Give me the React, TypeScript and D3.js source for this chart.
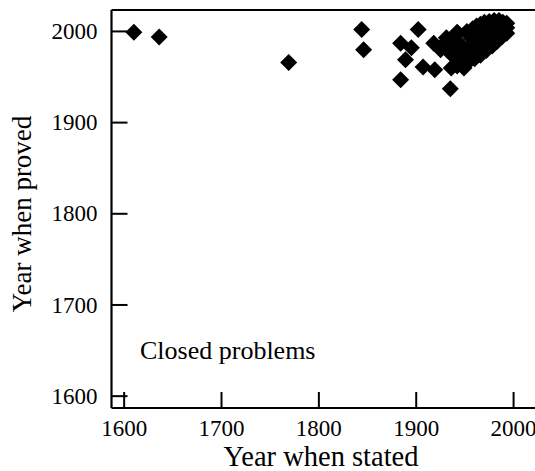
import React from 'react';
import * as d3 from 'd3';

// closed problems: year a problem was stated vs year it was proved

const statedYears = [
  1610, 1636, 1769, 1844, 1846, 1884, 1889, 1884, 1902, 1895,
  1907, 1919, 1935, 1936, 1949, 1918, 1931, 1943,
  1925, 1928, 1942, 1945, 1940, 1950, 1955, 1952, 1958, 1962,
  1966, 1970, 1975, 1980, 1985, 1989, 1993, 1993, 1988, 1983,
  1978, 1972, 1966, 1960, 1962, 1967, 1972, 1977, 1982, 1986,
  1980, 1975, 1970, 1965, 1958, 1960, 1945, 1952, 1936, 1993,
  1947, 1956, 1938, 1955, 1942, 1933, 1964
];
const provedYears = [
  1999, 1994, 1966, 2002, 1980, 1947, 1969, 1987, 2002, 1982,
  1961, 1958, 1937, 1960, 1960, 1987, 1993, 1998,
  1980, 1986, 1999, 1978, 1975, 1975, 1980, 2000, 2003, 2006,
  2008, 2010, 2011, 2012, 2012, 2010, 2004, 1998, 1994, 1989,
  1984, 1979, 1974, 1970, 1990, 1995, 2000, 2004, 2006, 2003,
  1997, 1991, 1987, 1982, 1985, 1996, 1968, 1966, 1975, 2009,
  1984, 1993, 1990, 1968, 1962, 1979, 1978
];

const xTicks = [1600, 1700, 1800, 1900, 2000];
const yTicks = [1600, 1700, 1800, 1900, 2000];

const W = 535;
const H = 471;
const font = '"Liberation Serif", "Times New Roman", serif';

export default function App() {
  const x = d3.scaleLinear().domain([1587, 2022]).range([111.5, 535]);
  const y = d3.scaleLinear().domain([1587, 2023.5]).range([408, 10]);

  const r = 8.5;
  const diamond = `M0,${-r}L${r},0L0,${r}L${-r},0Z`;
  const pts = statedYears.map((s, i) => ({ s, p: provedYears[i] }));

  const [x0, x1] = x.range();
  const [y0, y1] = y.range();
  const tickLen = 16;

  return (
    <svg width={W} height={H} style={{ position: 'absolute', left: 0, top: 0, background: '#fff' }}>
      {/* frame */}
      <line x1={x0} x2={x0} y1={y1} y2={y0} stroke="#000" strokeWidth={2.2} />
      <line x1={x0} x2={x1} y1={y0} y2={y0} stroke="#000" strokeWidth={2.2} />
      <line x1={x0} x2={x1} y1={y1} y2={y1} stroke="#000" strokeWidth={2.2} />

      {xTicks.map((t) => (
        <g key={'x' + t}>
          <line x1={x(t)} x2={x(t)} y1={y0} y2={y0 - tickLen} stroke="#000" strokeWidth={2} />
          <text x={x(t)} y={y0 + 28} textAnchor="middle" fontFamily={font} fontSize={23}>{t}</text>
        </g>
      ))}
      {yTicks.map((t) => (
        <g key={'y' + t}>
          <line x1={x0} x2={x0 + tickLen} y1={y(t)} y2={y(t)} stroke="#000" strokeWidth={2} />
          <text x={x0 - 14} y={y(t)} dy="0.33em" textAnchor="end" fontFamily={font} fontSize={23}>{t}</text>
        </g>
      ))}

      {pts.map((d, i) => (
        <path key={i} d={diamond} transform={`translate(${x(d.s)},${y(d.p)})`} fill="#000" />
      ))}

      <text x={140} y={359} fontFamily={font} fontSize={26}>Closed problems</text>
      <text x={321} y={466} textAnchor="middle" fontFamily={font} fontSize={28.5}>Year when stated</text>
      <text transform="translate(31,214) rotate(-90)" textAnchor="middle" fontFamily={font} fontSize={27}>Year when proved</text>
    </svg>
  );
}
